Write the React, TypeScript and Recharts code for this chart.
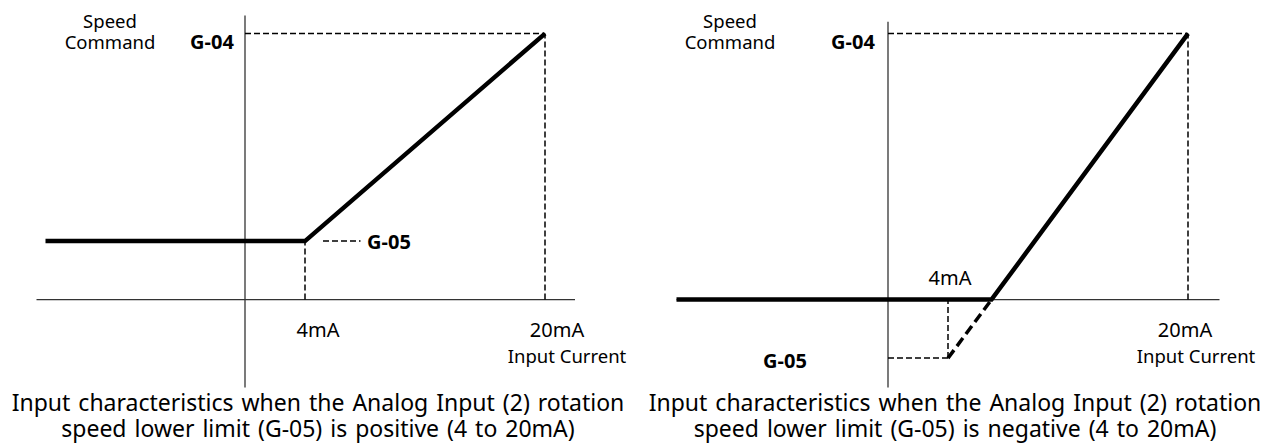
import { LineChart, Line, XAxis, YAxis, ReferenceLine } from 'recharts';

// shared scales: input current (mA) and speed command (% of G-04)
const currentDomain = [-16, 24];
const speedDomain = [-40, 110];

const G04 = 100;
const G05_POS = 22;
const G05_NEG = -22;

const tickLabels = ['4mA', '20mA'];

// left chart: lower limit positive
const posCurrent = [-13.3, 4, 20];
const posSpeed = [G05_POS, G05_POS, G04];
const posAxisX = [-13.9, 22];
const posAxisY = [-33, 106.8];

// right chart: lower limit negative
const negCurrent = [-14.1, 6.9, 20];
const negSpeed = [0, 0, G04];
const negDashCurrent = [4, 6.9];
const negDashSpeed = [G05_NEG, 0];
const negAxisX = [-14.1, 22.1];
const negAxisY = [-33, 104.5];

const captionsPos = [
  'Input characteristics when the Analog Input (2) rotation',
  'speed lower limit (G-05) is positive (4 to 20mA)',
];
const captionsNeg = [
  'Input characteristics when the Analog Input (2) rotation',
  'speed lower limit (G-05) is negative (4 to 20mA)',
];

const toRows = (xs: number[], ys: number[]) => xs.map((x, i) => ({ mA: x, speed: ys[i] }));

const FONT = "'Noto Sans', sans-serif";
const THIN = { stroke: '#000', strokeWidth: 1.5, strokeDasharray: '6 3' };
const AXIS = { stroke: '#333', strokeWidth: 1.3 };

type Seg = [number, number, number, number];

interface PanelProps {
  solid: { mA: number; speed: number }[];
  dashed?: { mA: number; speed: number }[];
  axisX: number[];
  axisY: number[];
  guides: Seg[];
  margin: { top: number; right: number; bottom: number; left: number };
}

function Panel({ solid, dashed, axisX, axisY, guides, margin }: PanelProps) {
  return (
    <LineChart width={620} height={444} margin={margin}>
      <XAxis type="number" dataKey="mA" domain={currentDomain} hide />
      <YAxis type="number" dataKey="speed" domain={speedDomain} hide />
      <ReferenceLine segment={[{ x: axisX[0], y: 0 }, { x: axisX[1], y: 0 }]} {...AXIS} />
      <ReferenceLine segment={[{ x: 0, y: axisY[0] }, { x: 0, y: axisY[1] }]} {...AXIS} />
      {guides.map((g, i) => (
        <ReferenceLine key={i} segment={[{ x: g[0], y: g[1] }, { x: g[2], y: g[3] }]} {...THIN} />
      ))}
      {dashed && (
        <Line
          data={dashed}
          dataKey="speed"
          type="linear"
          stroke="#000"
          strokeWidth={3.5}
          strokeDasharray="10 5"
          dot={false}
          isAnimationActive={false}
        />
      )}
      <Line
        data={solid}
        dataKey="speed"
        type="linear"
        stroke="#000"
        strokeWidth={4.5}
        dot={false}
        isAnimationActive={false}
      />
    </LineChart>
  );
}

function Txt({ x, y, children, bold, size = 19 }: { x: number; y: number; children: any; bold?: boolean; size?: number }) {
  return (
    <div
      style={{
        position: 'absolute',
        left: x,
        top: y,
        transform: 'translate(-50%, -50%)',
        whiteSpace: 'nowrap',
        fontFamily: FONT,
        fontSize: size,
        fontWeight: bold ? 700 : 400,
        lineHeight: 1,
        color: '#000',
      }}
    >
      {children}
    </div>
  );
}

// multi-line centred block (title, caption)
function Block({ x, y, lines, size, lh, ws = 0 }: { x: number; y: number; lines: string[]; size: number; lh: number; ws?: number }) {
  return (
    <div
      style={{
        position: 'absolute',
        left: x,
        top: y,
        transform: 'translate(-50%, -50%)',
        whiteSpace: 'nowrap',
        textAlign: 'center',
        fontFamily: FONT,
        fontSize: size,
        lineHeight: `${lh}px`,
        wordSpacing: ws,
        color: '#000',
      }}
    >
      {lines.map((l, i) => (
        <div key={i}>{l}</div>
      ))}
    </div>
  );
}

export default function App() {
  return (
    <div style={{ position: 'absolute', left: 0, top: 0, width: 1268, height: 444, background: '#fff', overflow: 'hidden' }}>
      <div style={{ position: 'absolute', left: 0, top: 0 }}>
        <Panel
          solid={toRows(posCurrent, posSpeed)}
          axisX={posAxisX}
          axisY={posAxisY}
          margin={{ top: 7, right: 15, bottom: 38, left: 5 }}
          guides={[
            [0, G04, 20, G04],
            [20, 0, 20, G04],
            [4, 0, 4, G05_POS],
            [5.2, G05_POS, 7.7, G05_POS],
          ]}
        />
      </div>
      <div style={{ position: 'absolute', left: 640, top: 0 }}>
        <Panel
          solid={toRows(negCurrent, negSpeed)}
          dashed={toRows(negDashCurrent, negDashSpeed)}
          axisX={negAxisX}
          axisY={negAxisY}
          margin={{ top: 7, right: 12, bottom: 38, left: 8 }}
          guides={[
            [0, G04, 20, G04],
            [20, 0, 20, G04],
            [4, G05_NEG, 4, 0],
            [0, G05_NEG, 4, G05_NEG],
          ]}
        />
      </div>

      {/* left labels */}
      <Block x={110} y={31} lines={['Speed', 'Command']} size={18.5} lh={21} />
      <Txt x={212} y={42} bold size={20}>G-04</Txt>
      <Txt x={389} y={242} bold size={20}>G-05</Txt>
      <Txt x={318} y={330} size={20}>{tickLabels[0]}</Txt>
      <Txt x={557} y={330} size={20}>{tickLabels[1]}</Txt>
      <Txt x={567} y={356} size={18.5}>Input Current</Txt>
      <Block x={318} y={415} lines={captionsPos} size={23} lh={26} ws={2} />

      {/* right labels */}
      <Block x={730} y={31} lines={['Speed', 'Command']} size={18.5} lh={21} />
      <Txt x={853} y={42} bold size={20}>G-04</Txt>
      <Txt x={785} y={361} bold size={20}>G-05</Txt>
      <Txt x={950} y={278} size={20}>{tickLabels[0]}</Txt>
      <Txt x={1185} y={330} size={20}>{tickLabels[1]}</Txt>
      <Txt x={1196} y={356} size={18.5}>Input Current</Txt>
      <Block x={955} y={415} lines={captionsNeg} size={23} lh={26} ws={2} />
    </div>
  );
}
